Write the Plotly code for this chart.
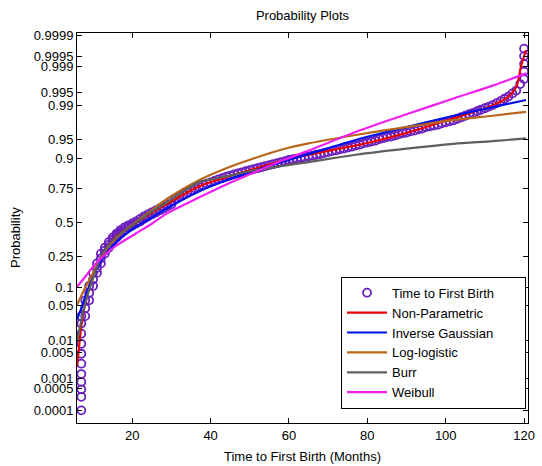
import plotly.graph_objects as go
from statistics import NormalDist

# ---------------- data ----------------
# empirical points "Time to First Birth" (months stack vertically)
data_months = ([7] * 11 +
               [8, 8, 8, 9, 9, 9, 10, 10, 10, 11, 11, 11, 12, 12, 12, 13, 13, 13,
                14, 14, 14, 15, 15, 15, 16, 16, 16, 17, 17, 17, 18, 18, 19, 19, 20, 20,
                21, 21, 22, 22, 23, 23, 24, 24, 25, 25, 26, 26, 27, 27, 28, 28, 29, 29, 30, 30] +
               [31, 32, 33, 34, 35, 36, 37, 38, 39, 40, 41, 42, 43, 44, 45, 46, 47, 48, 49, 50,
                51, 52, 53, 54, 55, 56, 57, 58, 59, 60, 61, 62, 63, 64, 65, 66, 67, 68, 69, 70,
                71, 72, 73, 74, 75, 76, 77, 78, 79, 80, 81, 82, 83, 84, 85, 86, 87, 88, 89, 90,
                91, 92, 93, 94, 95, 96, 97, 98, 99, 100, 101, 102, 103, 104, 105, 106, 107, 108,
                109, 110, 111, 112, 113, 114, 115, 116, 117, 118, 119,
                120, 120, 120, 120, 120])
data_prob = ([0.0001, 0.00028, 0.00048, 0.0008, 0.00135, 0.0026, 0.0047, 0.0082, 0.0139, 0.0228, 0.032] +
             [0.032, 0.045, 0.062, 0.062, 0.082, 0.105, 0.105, 0.13, 0.160, 0.160, 0.185, 0.210,
              0.210, 0.24, 0.270, 0.270, 0.29, 0.310, 0.310, 0.33, 0.350, 0.350, 0.368, 0.385,
              0.385, 0.40, 0.415, 0.415, 0.428, 0.442, 0.442, 0.462, 0.462, 0.478, 0.478, 0.494,
              0.494, 0.510, 0.510, 0.530, 0.530, 0.549, 0.549, 0.565, 0.565, 0.580, 0.580, 0.596,
              0.596, 0.611, 0.611, 0.627, 0.627, 0.642, 0.642, 0.666] +
             [0.682, 0.698, 0.712, 0.726, 0.739, 0.752, 0.763, 0.773, 0.781, 0.788,
              0.797, 0.805, 0.812, 0.819, 0.825, 0.831, 0.836, 0.841, 0.846, 0.851,
              0.856, 0.860, 0.865, 0.869, 0.873, 0.877, 0.881, 0.885, 0.889, 0.893,
              0.896, 0.898, 0.901, 0.903, 0.906, 0.908, 0.911, 0.913, 0.916, 0.919,
              0.922, 0.924, 0.927, 0.929, 0.932, 0.934, 0.937, 0.939, 0.942, 0.944,
              0.946, 0.948, 0.951, 0.953, 0.955, 0.956, 0.958, 0.960, 0.962, 0.963,
              0.965, 0.966, 0.968, 0.969, 0.971, 0.972, 0.973, 0.974, 0.9756, 0.9767,
              0.9778, 0.9788, 0.9803, 0.9817, 0.9830, 0.9842, 0.9853, 0.9864,
              0.9874, 0.9884, 0.9893, 0.9901, 0.9911, 0.9920, 0.9930, 0.9938, 0.9948, 0.9956, 0.9970,
              0.9978, 0.99865, 0.99918, 0.99952, 0.99972])

# fitted curves
fit_months = [5.9, 8, 10, 12.5, 16, 21, 25, 29, 37, 44, 50, 58, 65, 77, 90, 102, 112, 120.5]

np_months = [5.9, 6.5, 7, 8, 9, 10, 12.5, 16, 21, 25, 29, 37, 44, 50, 58, 65, 77, 80, 90,
             102, 112, 116, 118, 119.2, 120.5]
np_prob = [0.0022, 0.0082, 0.0202, 0.0548, 0.0968, 0.140, 0.268, 0.394, 0.5, 0.579, 0.648,
           0.764, 0.816, 0.851, 0.889, 0.911, 0.937, 0.943, 0.9625, 0.9808, 0.9901, 0.9938,
           0.9964, 0.999, 0.99969]

ig_months = [5.9, 7, 8, 10, 12.5, 16, 21, 25, 29, 37, 44, 50, 58, 65, 77, 90, 102, 112, 120.5]
ig_prob = [0.0274, 0.0446, 0.0708, 0.142, 0.242, 0.352, 0.468, 0.540, 0.614, 0.732, 0.800,
           0.841, 0.885, 0.913, 0.9495, 0.971, 0.983, 0.989, 0.9925]

ll_prob = [0.0516, 0.0985, 0.159, 0.271, 0.382, 0.508, 0.599, 0.684, 0.800, 0.860, 0.894,
           0.926, 0.942, 0.959, 0.971, 0.979, 0.983, 0.986]

burr_months = [5.9, 7, 8, 10, 12.5, 16, 21, 25, 29, 37, 44, 50, 58, 65, 77, 90, 102, 112, 120.5]
burr_prob = [0.0094, 0.0256, 0.0548, 0.136, 0.274, 0.390, 0.5, 0.587, 0.659, 0.788, 0.821,
             0.846, 0.869, 0.885, 0.911, 0.929, 0.941, 0.947, 0.9525]

wb_prob = [0.102, 0.142, 0.192, 0.251, 0.326, 0.417, 0.492, 0.575, 0.691, 0.776, 0.831,
           0.889, 0.9236, 0.964, 0.9842, 0.9931, 0.9967, 0.99846]

tick_probs = [0.0001, 0.0005, 0.001, 0.005, 0.01, 0.05, 0.1, 0.25, 0.5, 0.75, 0.9, 0.95,
              0.99, 0.995, 0.999, 0.9995, 0.9999]
tick_labels = ["0.0001", "0.0005", "0.001", "0.005", "0.01", "0.05", "0.1", "0.25", "0.5",
               "0.75", "0.9", "0.95", "0.99", "0.995", "0.999", "0.9995", "0.9999"]
x_ticks = [20, 40, 60, 80, 100, 120]

# ---------------- probability (normal) scale ----------------
nd = NormalDist()


def probit(ps):
    return [nd.inv_cdf(p) for p in ps]


FONT = "Liberation Sans, Arial, sans-serif"
PAD = "\u00a0" * 7
fig = go.Figure()

fig.add_trace(go.Scatter(
    x=data_months, y=probit(data_prob), mode="markers", name="Time to First Birth" + PAD,
    marker=dict(symbol="circle-open", size=8, color="#6a1fbf", line=dict(width=1.8, color="#6a1fbf")),
))
fig.add_trace(go.Scatter(x=np_months, y=probit(np_prob), mode="lines", name="Non-Parametric",
                         line=dict(color="#e80000", width=2.2, shape="spline", smoothing=0.8)))
fig.add_trace(go.Scatter(x=ig_months, y=probit(ig_prob), mode="lines", name="Inverse Gaussian",
                         line=dict(color="#0010e8", width=2.2, shape="spline", smoothing=0.8)))
fig.add_trace(go.Scatter(x=fit_months, y=probit(ll_prob), mode="lines", name="Log-logistic",
                         line=dict(color="#b8661c", width=2.2, shape="spline", smoothing=0.8)))
fig.add_trace(go.Scatter(x=burr_months, y=probit(burr_prob), mode="lines", name="Burr",
                         line=dict(color="#5f5f5f", width=2.2, shape="spline", smoothing=0.8)))
fig.add_trace(go.Scatter(x=fit_months, y=probit(wb_prob), mode="lines", name="Weibull",
                         line=dict(color="#f020f0", width=2.2, shape="spline", smoothing=0.8)))

L, R, T, B = 77, 7, 33, 43
fig.update_layout(
    width=542, height=466,
    margin=dict(l=L, r=R, t=T, b=B),
    paper_bgcolor="white", plot_bgcolor="white",
    font=dict(family=FONT, size=13, color="#000000"),
    title=dict(text="Probability Plots", x=0.5, xref="paper", xanchor="center",
               y=1 - 15 / 466, yref="container", yanchor="middle",
               font=dict(family=FONT, size=13, color="#000000")),
    showlegend=True,
    legend=dict(x=0.9956, y=0.375, xanchor="right", yanchor="top",
                bgcolor="white", bordercolor="#000000", borderwidth=1,
                font=dict(family=FONT, size=13, color="#000000"),
                tracegroupgap=0, itemwidth=40),
    xaxis=dict(range=[5.9, 121], tickvals=x_ticks, ticktext=[str(v) for v in x_ticks],
               ticks="inside", ticklen=5, tickcolor="#000000", showline=True,
               linecolor="#000000", linewidth=1, mirror="allticks", showgrid=False,
               zeroline=False, tickfont=dict(size=13)),
    yaxis=dict(range=[-3.97, 3.76], tickvals=probit(tick_probs), ticktext=tick_labels,
               ticks="inside", ticklen=5, tickcolor="#000000", showline=True,
               linecolor="#000000", linewidth=1, mirror="allticks", showgrid=False,
               zeroline=False, tickfont=dict(size=13)),
    annotations=[
        dict(text="Time to First Birth (Months)", xref="paper", yref="paper", x=0.5,
             y=-(457 - 423) / 390, xanchor="center", yanchor="middle", showarrow=False,
             font=dict(family=FONT, size=13, color="#000000")),
        dict(text="Probability", xref="paper", yref="paper", x=(15 - 77) / 458,
             y=(423 - 237) / 390, xanchor="center", yanchor="middle", showarrow=False,
             textangle=-90, font=dict(family=FONT, size=13, color="#000000")),
    ],
)

fig.write_html("out.html")
